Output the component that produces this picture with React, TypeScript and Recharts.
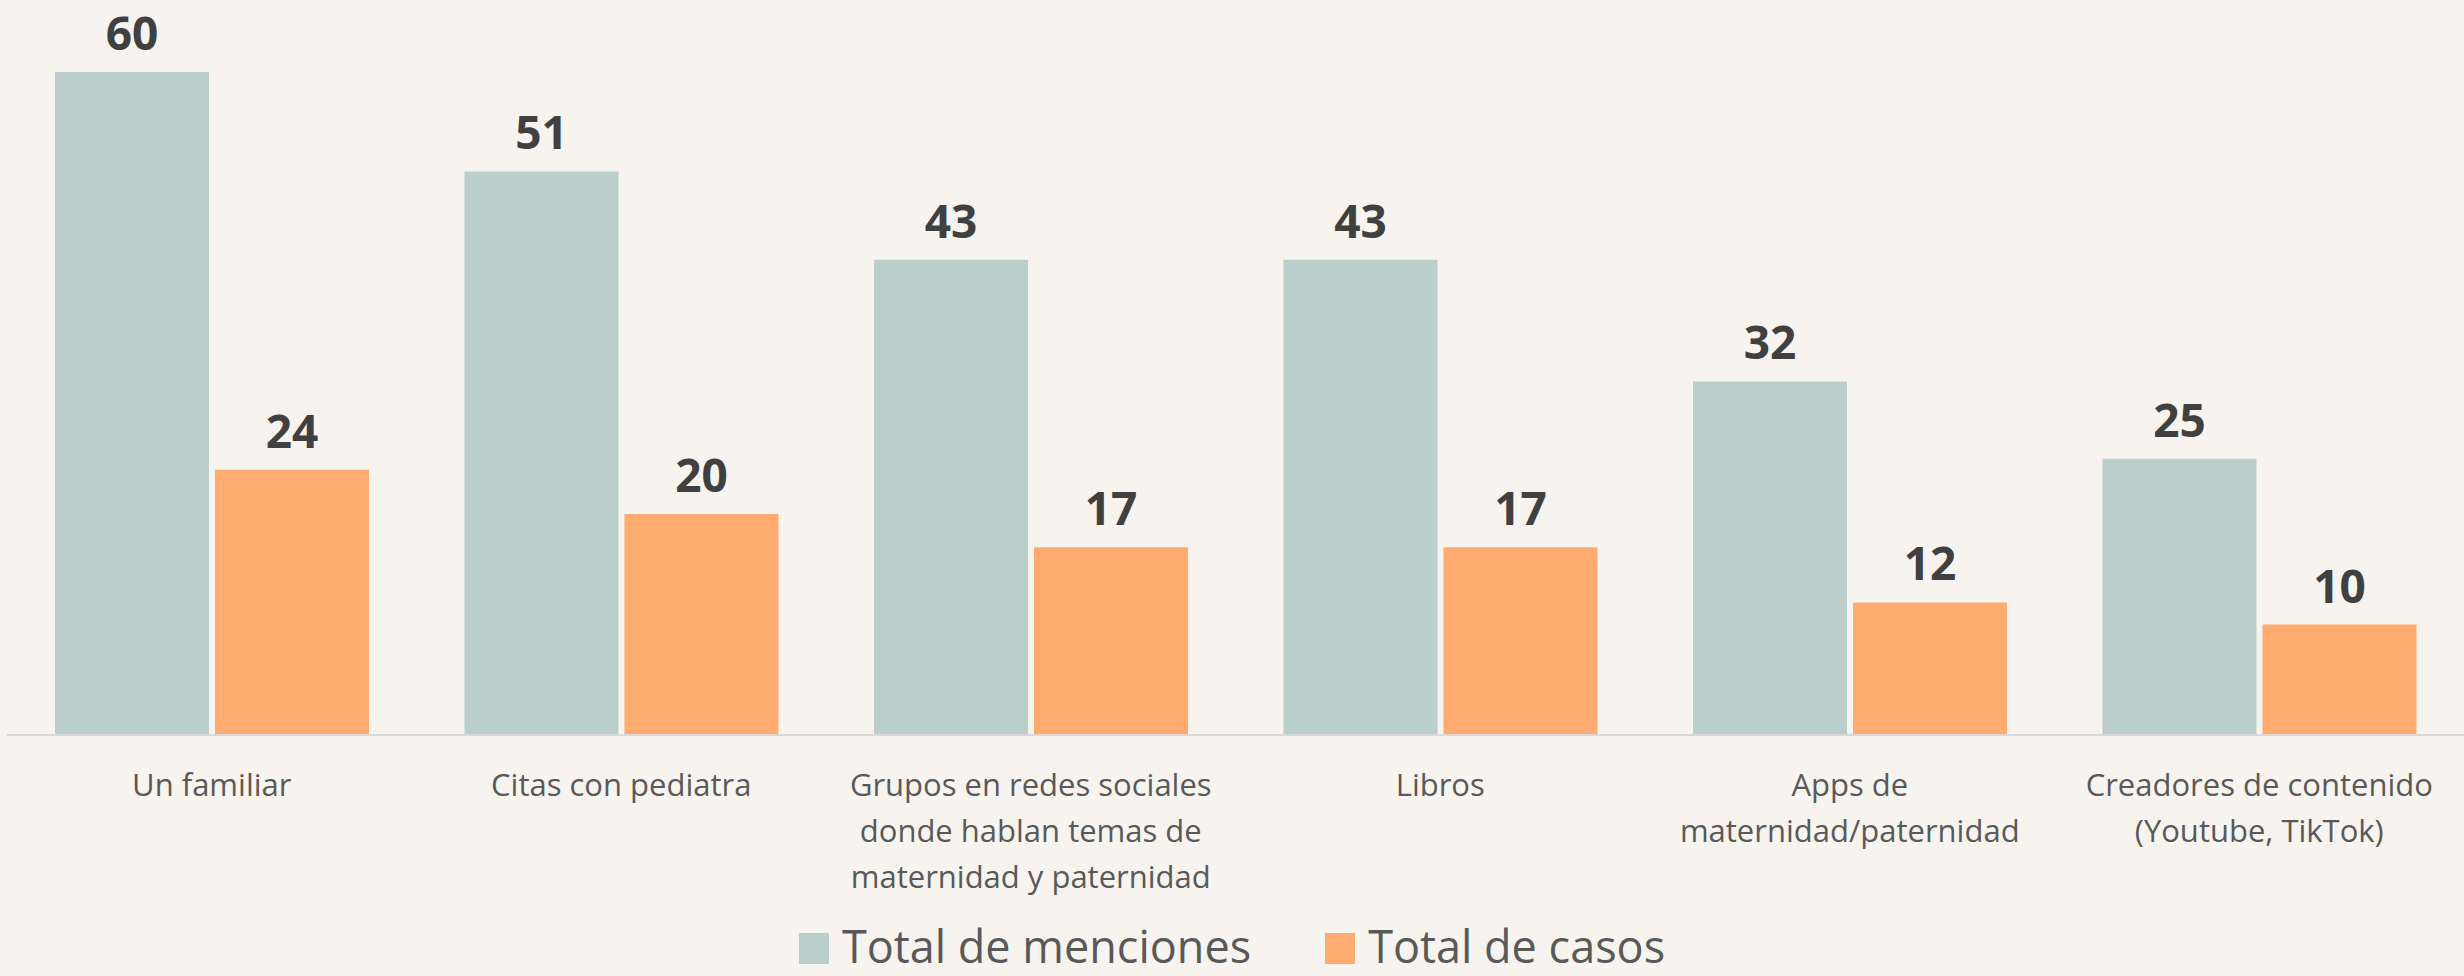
import { Bar, BarChart, LabelList, Legend, XAxis, YAxis } from "recharts";

const categories = [
	["Un familiar"],
	["Citas con pediatra"],
	["Grupos en redes sociales", "donde hablan temas de", "maternidad y paternidad"],
	["Libros"],
	["Apps de", "maternidad/paternidad"],
	["Creadores de contenido", "(Youtube, TikTok)"],
];
const menciones = [60, 51, 43, 43, 32, 25];
const casos = [24, 20, 17, 17, 12, 10];

const seriesNames = { menciones: "Total de menciones", casos: "Total de casos" };
const colors = { menciones: "#BACECB", casos: "#FFAA6E" };

const chartData = categories.map((lines, i) => ({
	name: lines.join("\n"),
	menciones: menciones[i],
	casos: casos[i],
}));

const FONT = "'Open Sans', sans-serif";

// multi-line category label under each pair of bars
function CategoryTick({ x, y, payload }: any) {
	const lines = String(payload.value).split("\n");
	return (
		<text
			x={x}
			y={y + 61}
			textAnchor="middle"
			fill="#595959"
			fontSize={31}
			fontFamily={FONT}
		>
			{lines.map((line, i) => (
				<tspan key={line} x={x} dy={i === 0 ? 0 : 46}>
					{line}
				</tspan>
			))}
		</text>
	);
}

function ChartLegend() {
	const items = [
		{ label: seriesNames.menciones, color: colors.menciones },
		{ label: seriesNames.casos, color: colors.casos },
	];
	return (
		<div
			style={{
				display: "flex",
				justifyContent: "center",
				alignItems: "center",
				gap: 74,
				fontFamily: FONT,
				fontSize: 45,
				lineHeight: "45px",
				color: "#595959",
			}}
		>
			{items.map(({ label, color }) => (
				<div key={label} style={{ display: "flex", alignItems: "center" }}>
					<span
						style={{
							display: "inline-block",
							width: 30,
							height: 31,
							background: color,
							marginRight: 13,
							marginTop: 6,
						}}
					/>
					<span>{label}</span>
				</div>
			))}
		</div>
	);
}

export default function App() {
	return (
		<div
			style={{
				position: "absolute",
				left: 0,
				top: 0,
				width: 2464,
				height: 976,
				background: "#F7F4EF",
				overflow: "hidden",
			}}
		>
			<BarChart
				width={2464}
				height={976}
				data={chartData}
				margin={{ top: 72, right: 0, left: 7, bottom: 0 }}
				barCategoryGap={48}
				barGap={6}
			>
				<XAxis
					dataKey="name"
					height={241}
					tickLine={false}
					tickSize={0}
					tickMargin={0}
					axisLine={{ stroke: "#D9D9D9", strokeWidth: 2 }}
					tick={<CategoryTick />}
					interval={0}
				/>
				<YAxis hide domain={[0, 60]} />
				<Legend
					verticalAlign="middle"
					align="center"
					layout="horizontal"
					content={<ChartLegend />}
					wrapperStyle={{ top: 923, left: 0, width: 2464 }}
				/>
				<Bar
					dataKey="menciones"
					name={seriesNames.menciones}
					fill={colors.menciones}
					isAnimationActive={false}
				>
					<LabelList
						dataKey="menciones"
						position="top"
						offset={22}
						fill="#404040"
						fontSize={46}
						fontWeight="bold"
						fontFamily={FONT}
					/>
				</Bar>
				<Bar
					dataKey="casos"
					name={seriesNames.casos}
					fill={colors.casos}
					isAnimationActive={false}
				>
					<LabelList
						dataKey="casos"
						position="top"
						offset={22}
						fill="#404040"
						fontSize={46}
						fontWeight="bold"
						fontFamily={FONT}
					/>
				</Bar>
			</BarChart>
		</div>
	);
}
